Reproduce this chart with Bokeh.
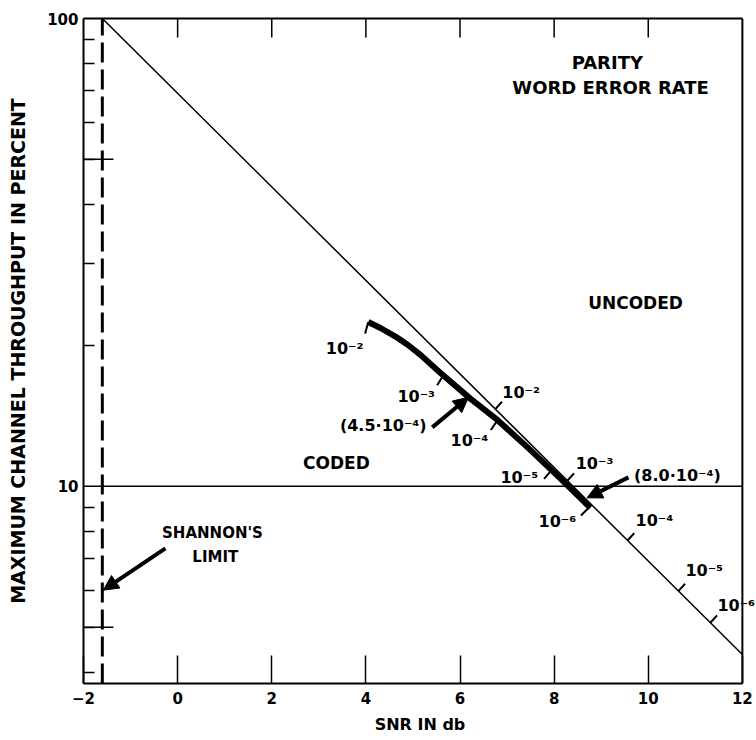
import numpy as np
from bokeh.plotting import figure
from bokeh.models import (ColumnDataSource, LabelSet, Arrow, NormalHead,
                          FixedTicker, LinearAxis, Range1d)
from bokeh.core.properties import value
from bokeh.embed import file_html
from bokeh.resources import INLINE

# ---------------- data ----------------
x_min, x_max = -2, 12
y_min, y_max = 3.79, 100
x_ticks = [-2, 0, 2, 4, 6, 8, 10, 12]
x_tick_labels = {-2: "−2"}
top_ticks = [0, 2, 4, 6, 8, 10]
y_major = [10, 100]
y_minor = [4, 5, 6, 7, 8, 9, 20, 30, 40, 50, 60, 70, 80, 90]
y_long_ticks = [5, 50]

shannon_x = [-1.6, -1.6]
shannon_y = [3.79, 100]

ref10_x = [-2, 12]
ref10_y = [10, 10]

uncoded_x = [-1.6, 12]
uncoded_y = [100, 4.37]

coded_x = [4.05, 4.31, 4.63, 4.88, 5.16, 5.58, 6.22, 6.80, 7.43, 8.13, 8.77]
coded_y = [22.45, 21.8, 20.9, 20.1, 19.1, 17.5, 15.4, 13.85, 12.13, 10.4, 9.0]

coded_tick_x = [4.05, 5.65, 6.8, 7.95, 8.75]
coded_tick_y = [22.45, 17.3, 13.85, 10.85, 9.03]
coded_tick_text = ["10⁻²", "10⁻³", "10⁻⁴", "10⁻⁵", "10⁻⁶"]
coded_label_x = [3.55, 5.07, 6.20, 7.26, 8.07]
coded_label_y = [19.7, 15.6, 12.54, 10.45, 8.42]

uncoded_tick_x = [6.75, 8.28, 9.56, 10.64, 11.32]
uncoded_tick_y = [14.62, 10.28, 7.66, 5.97, 5.11]
uncoded_tick_text = ["10⁻²", "10⁻³", "10⁻⁴", "10⁻⁵", "10⁻⁶"]
uncoded_label_x = [7.30, 8.86, 10.13, 11.19, 11.87]
uncoded_label_y = [15.9, 11.2, 8.45, 6.62, 5.57]

arrow_tail_x = [5.41, 9.58, -0.26]
arrow_tail_y = [13.37, 10.45, 7.37]
arrow_head_x = [6.18, 8.70, -1.58]
arrow_head_y = [15.5, 9.45, 6.0]
arrow_text = ["(4.5·10⁻⁴)", "(8.0·10⁻⁴)"]
arrow_text_x = [4.37, 10.62]
arrow_text_y = [13.5, 10.56]

title_text = ["PARITY", "WORD ERROR RATE"]
title_x = [9.13, 9.20]
title_y = [80.5, 71.2]

region_text = ["UNCODED", "CODED"]
region_x = [9.73, 3.375]
region_y = [24.7, 11.2]

shannon_text = ["SHANNON'S", "LIMIT"]
shannon_tx = [0.74, 0.80]
shannon_ty = [7.94, 7.05]

# ---------------- styles ----------------
coded_tick_angle = [255, 238, 235, 230, 225]
uncoded_tick_angle = [48, 48, 48, 48, 48]
FONT = "DejaVu Sans"

# frame extends a little past x=12 so the last label can overhang the border
p = figure(width=756, height=740, x_range=Range1d(x_min, 12.3), y_range=Range1d(y_min, y_max),
           y_axis_type="log", output_backend="svg", toolbar_location=None,
           min_border_left=83, min_border_right=0, min_border_top=18, min_border_bottom=57,
           background_fill_color="white", border_fill_color="white")
p.xgrid.visible = False
p.ygrid.visible = False
p.outline_line_color = None

# bottom axis
xa = p.xaxis[0]
xa.bounds = (x_min, x_max)
xa.ticker = FixedTicker(ticks=x_ticks, minor_ticks=[])
xa.major_label_overrides = x_tick_labels
xa.major_tick_in = 28
xa.major_tick_out = 0
xa.major_tick_line_width = 1.5
xa.major_tick_line_color = "black"
xa.minor_tick_line_color = None
xa.axis_line_color = "black"
xa.axis_line_width = 2
xa.major_label_text_font = FONT
xa.major_label_text_font_style = "bold"
xa.major_label_text_font_size = "15px"
xa.major_label_text_color = "black"
xa.major_label_standoff = 8
xa.axis_label = "SNR IN db"
xa.axis_label_text_font = FONT
xa.axis_label_text_font_style = "bold"
xa.axis_label_text_font_size = "16px"
xa.axis_label_text_color = "black"
xa.axis_label_standoff = 8

# left axis
ya = p.yaxis[0]
ya.ticker = FixedTicker(ticks=y_major, minor_ticks=y_minor)
ya.major_label_overrides = {10: "10", 100: "100"}
ya.major_tick_in = 0
ya.major_tick_out = 0
ya.minor_tick_in = 11
ya.minor_tick_out = 0
ya.minor_tick_line_width = 1.5
ya.minor_tick_line_color = "black"
ya.axis_line_color = "black"
ya.axis_line_width = 2
ya.major_label_text_font = FONT
ya.major_label_text_font_style = "bold"
ya.major_label_text_font_size = "15px"
ya.major_label_text_color = "black"
ya.major_label_standoff = 5
ya.axis_label = "MAXIMUM CHANNEL THROUGHPUT IN PERCENT"
ya.axis_label_text_font = FONT
ya.axis_label_text_font_style = "bold"
ya.axis_label_text_font_size = "19px"
ya.axis_label_text_color = "black"
ya.axis_label_standoff = 15

# top border (axis line only)
ta = LinearAxis(ticker=FixedTicker(ticks=[], minor_ticks=[]), bounds=(x_min, x_max),
                axis_line_color="black", axis_line_width=2,
                major_tick_line_color=None, minor_tick_line_color=None)
p.add_layout(ta, "above")

# right border at x = 12
p.line([x_max, x_max], [y_min, y_max], line_color="black", line_width=2)

# long inward ticks at 5 and 50, and top inward ticks
p.ray(x=[x_min] * len(y_long_ticks), y=y_long_ticks, length=30, length_units="screen",
      angle=0, line_color="black", line_width=1.5)
p.ray(x=top_ticks, y=[y_max] * len(top_ticks), length=19, length_units="screen",
      angle=-90, angle_units="deg", line_color="black", line_width=1.5)

# lines
p.line(ref10_x, ref10_y, line_color="black", line_width=1.5)
p.line(uncoded_x, uncoded_y, line_color="black", line_width=1.5)
p.line(shannon_x, shannon_y, line_color="black", line_width=3, line_dash="20 7")
p.line(coded_x, coded_y, line_color="black", line_width=6, line_join="round")

# tick marks on the curves
p.ray(x=coded_tick_x, y=coded_tick_y, length=12, length_units="screen",
      angle=coded_tick_angle, angle_units="deg", line_color="black", line_width=2)
p.ray(x=uncoded_tick_x, y=uncoded_tick_y, length=10, length_units="screen",
      angle=uncoded_tick_angle, angle_units="deg", line_color="black", line_width=2)

# arrows
asrc = ColumnDataSource(dict(x_start=arrow_tail_x, y_start=arrow_tail_y,
                             x_end=arrow_head_x, y_end=arrow_head_y))
p.add_layout(Arrow(end=NormalHead(size=15, fill_color="black", line_color="black"),
                   x_start="x_start", y_start="y_start", x_end="x_end", y_end="y_end",
                   source=asrc, line_width=4, line_color="black"))

def labels(xs, ys, texts, size):
    src = ColumnDataSource(dict(x=xs, y=ys, t=texts))
    p.add_layout(LabelSet(x="x", y="y", text="t", source=src, text_align="center",
                          text_baseline="middle", text_font=value(FONT),
                          text_font_style=value("bold"), text_font_size=value(size),
                          text_color="black"))

labels(title_x, title_y, title_text, "18px")
labels(region_x, region_y, region_text, "17px")
labels(shannon_tx, shannon_ty, shannon_text, "15px")
labels(coded_label_x, coded_label_y, coded_tick_text, "16px")
labels(uncoded_label_x, uncoded_label_y, uncoded_tick_text, "16px")
labels(arrow_text_x, arrow_text_y, arrow_text, "16px")

open("out.html", "w").write(file_html(p, INLINE))
